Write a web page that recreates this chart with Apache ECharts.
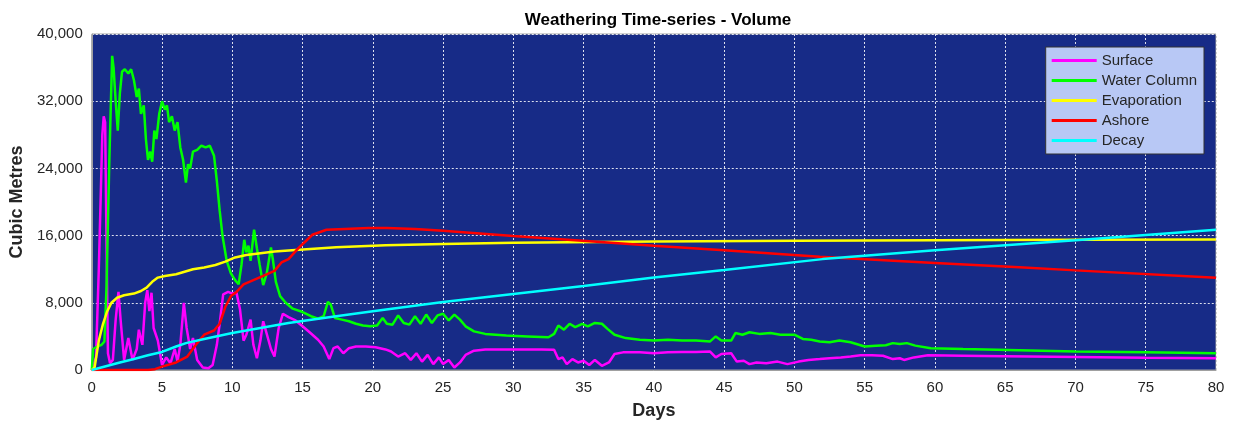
<!DOCTYPE html>
<html>
<head>
<meta charset="utf-8">
<script src="https://cdn.jsdelivr.net/npm/echarts@6/dist/echarts.min.js"></script>
<style>
html,body{margin:0;padding:0;background:#fff;}
#chart{width:1235px;height:425px;}
</style>
</head>
<body>
<div id="chart"></div>
<script>
const titleText = 'Weathering Time-series - Volume';
const xName = 'Days';
const yName = 'Cubic Metres';
const seriesNames = ['Surface', 'Water Column', 'Evaporation', 'Ashore', 'Decay'];

const surface = [[0,0],[0.3,1500],[0.5,12000],[0.75,28000],[0.85,30200],[0.95,29500],[1.05,15000],[1.15,2000],[1.3,800],[1.5,1200],[1.7,6000],[1.9,9300],[2.05,6000],[2.3,1200],[2.6,3800],[2.9,1200],[3.2,2500],[3.35,4800],[3.6,3000],[3.8,8000],[3.95,9500],[4.1,7000],[4.25,9200],[4.4,5000],[4.7,3500],[5.0,600],[5.3,1500],[5.6,800],[5.9,2500],[6.1,1000],[6.3,3000],[6.55,8000],[6.75,5000],[7.0,2500],[7.2,3800],[7.5,1200],[7.9,300],[8.3,200],[8.6,600],[8.9,3000],[9.1,5500],[9.35,9000],[9.7,9300],[10.0,9100],[10.3,9200],[10.55,7200],[10.8,3500],[11.0,4200],[11.3,6000],[11.5,3000],[11.75,1400],[12.0,3500],[12.2,5800],[12.5,4000],[12.75,2500],[13.0,1600],[13.3,5000],[13.6,6700],[14.0,6300],[14.5,5900],[15.0,5200],[15.5,4500],[16.1,3600],[16.5,2800],[16.9,1300],[17.2,2600],[17.5,2800],[17.9,2000],[18.3,2600],[18.8,2800],[19.5,2800],[20.2,2700],[20.9,2450],[21.3,2200],[21.8,1600],[22.3,2000],[22.7,1200],[23.1,2000],[23.5,1000],[23.9,1800],[24.3,700],[24.7,1500],[25.0,700],[25.4,1200],[25.8,300],[26.2,900],[26.6,1800],[27.2,2300],[28,2450],[30,2450],[32,2450],[32.9,2400],[33.2,1300],[33.5,1500],[33.8,700],[34.2,1300],[34.6,900],[35,1100],[35.4,600],[35.8,1200],[36.3,500],[36.8,900],[37.2,1900],[37.8,2100],[39,2100],[40,2000],[41,2100],[42,2150],[43,2150],[44,2200],[44.4,1500],[44.8,1900],[45.5,2000],[45.9,1000],[46.4,1100],[46.8,700],[47.3,900],[48,800],[48.8,1000],[49.5,700],[50.3,1000],[51,1200],[51.8,1300],[52.5,1400],[53.3,1500],[54,1600],[54.7,1750],[55.5,1750],[56.3,1700],[57,1300],[57.5,1400],[57.8,1200],[58.5,1500],[59.5,1750],[62,1700],[65,1650],[70,1550],[75,1450],[80,1400]];

const waterColumn = [[0,0],[0.1,2500],[0.4,2800],[0.7,3000],[0.9,3400],[1.05,10000],[1.25,25000],[1.45,37400],[1.55,36000],[1.7,32000],[1.85,28500],[2.0,33000],[2.15,35500],[2.35,35800],[2.6,35300],[2.8,35800],[3.0,34500],[3.2,32500],[3.35,33500],[3.5,30500],[3.7,31500],[3.85,27500],[4.0,25000],[4.15,26000],[4.3,24800],[4.45,28500],[4.6,27500],[4.8,30500],[5.0,32000],[5.2,31000],[5.35,31500],[5.5,29500],[5.7,30200],[5.9,28500],[6.1,29500],[6.3,26500],[6.5,25000],[6.7,22300],[6.85,24500],[7.0,24000],[7.2,26000],[7.5,26200],[7.8,26700],[8.1,26500],[8.4,26700],[8.7,25500],[8.9,22500],[9.1,19000],[9.3,16000],[9.6,13000],[9.9,11500],[10.2,10700],[10.45,10200],[10.65,12500],[10.85,15500],[11.0,14000],[11.15,14800],[11.3,13000],[11.55,16700],[11.75,14500],[11.95,12500],[12.2,10100],[12.45,11500],[12.75,14600],[12.9,13000],[13.1,10500],[13.4,8800],[13.8,8000],[14.3,7300],[15.0,6900],[15.6,6400],[16.1,6100],[16.5,6400],[16.8,8100],[17.0,7800],[17.3,6200],[17.8,6000],[18.3,5800],[18.8,5500],[19.3,5300],[19.8,5200],[20.3,5300],[20.7,6200],[21.0,5500],[21.4,5400],[21.8,6500],[22.2,5600],[22.6,5400],[23.0,6400],[23.4,5500],[23.8,6600],[24.2,5600],[24.6,6500],[25.0,6700],[25.4,5900],[25.8,6600],[26.2,6000],[26.6,5200],[27.2,4600],[28,4300],[29.5,4100],[31,4000],[32.5,3900],[32.9,4300],[33.2,5300],[33.6,4800],[34,5500],[34.4,5100],[34.9,5500],[35.3,5200],[35.8,5600],[36.3,5500],[36.7,4900],[37.2,4200],[38,3800],[39,3600],[40,3500],[41,3600],[42,3500],[43,3500],[44,3400],[44.4,4000],[44.8,3500],[45.5,3500],[45.8,4400],[46.3,4200],[46.8,4500],[47.5,4300],[48.3,4400],[49,4200],[50,4200],[50.6,3700],[51.2,3600],[51.8,3400],[52.5,3300],[53.2,3500],[54,3300],[55,2800],[55.8,2900],[56.5,2950],[57,3200],[57.5,3100],[58,3200],[58.6,2900],[59.7,2600],[62,2500],[66,2350],[70,2200],[75,2100],[80,2000]];

const evaporation = [[0,0],[0.2,300],[0.5,3500],[0.8,5500],[1.1,7000],[1.4,8000],[1.8,8600],[2.3,8900],[3.0,9100],[3.5,9400],[3.9,9800],[4.3,10500],[4.7,11000],[5.2,11200],[6.0,11400],[6.6,11700],[7.2,12000],[8.0,12200],[8.8,12500],[9.5,12900],[10.2,13400],[11.0,13700],[12.0,13900],[13.0,14100],[14.5,14300],[17.4,14600],[20.9,14850],[25,15000],[30,15150],[40,15300],[50,15380],[60,15450],[70,15500],[80,15550]];

const ashore = [[0,0],[4.0,0],[4.5,100],[5.0,400],[6.0,900],[6.8,1600],[7.5,3200],[8.0,4200],[8.7,4700],[9.1,5500],[9.5,7500],[9.9,8800],[10.3,9300],[10.8,10200],[11.5,10700],[12.2,11200],[13.0,11800],[13.5,12800],[14.0,13200],[14.7,14500],[15.2,15300],[15.7,16100],[16.2,16400],[16.7,16700],[18,16800],[19.7,16900],[21,16900],[23,16800],[25,16580],[30,15950],[36.2,15250],[40,14800],[45,14250],[51.8,13480],[60,12750],[66,12230],[70,11860],[80,10980]];

const decay = [[0,0],[1,450],[2,900],[3,1300],[4,1750],[5,2150],[6,2800],[6.7,3200],[8,3700],[10,4400],[12,5000],[14,5600],[17,6300],[20,7000],[25,8100],[30,9050],[35,10000],[40,11000],[45,11900],[52,13200],[60,14250],[70,15450],[80,16700]];

const colors = ['#FF00FF', '#00FF00', '#FFFF00', '#FF0000', '#00FFFF'];
const seriesData = [surface, waterColumn, evaporation, ashore, decay];

const chart = echarts.init(document.getElementById('chart'));
const font = 'Liberation Sans, Arial, sans-serif';
chart.setOption({
  animation: false,
  textStyle: { fontFamily: font },
  title: {
    text: titleText,
    left: 653, top: 7, textAlign: 'center',
    textStyle: { fontSize: 17, fontWeight: 'bold', color: '#000', fontFamily: font }
  },
  grid: {
    left: 91, right: 19, top: 34, bottom: 51,
    show: true, backgroundColor: '#172B87', borderColor: '#A0A0A0', borderWidth: 1
  },
  legend: {
    data: seriesNames,
    orient: 'vertical',
    right: 31, top: 47,
    backgroundColor: '#B8C8F5',
    borderColor: '#333', borderWidth: 1,
    padding: [6, 7, 6, 6],
    itemWidth: 45, itemHeight: 3, itemGap: 5,
    icon: 'rect',
    textStyle: { fontSize: 15, color: '#262626', fontFamily: font }
  },
  xAxis: {
    type: 'value', min: 0, max: 80, interval: 5,
    name: xName, nameLocation: 'middle', nameGap: 32,
    nameTextStyle: { fontSize: 18, fontWeight: 'bold', color: '#262626' },
    axisLine: { show: true, lineStyle: { color: '#A0A0A0' } },
    axisTick: { show: false },
    axisLabel: { fontSize: 15, color: '#262626', margin: 10 },
    splitLine: { show: true, lineStyle: { color: '#FFFFFF', type: [2, 2], width: 1, opacity: 0.85 } }
  },
  yAxis: {
    type: 'value', min: 0, max: 40000, interval: 8000,
    name: yName, nameLocation: 'middle', nameGap: 62,
    nameTextStyle: { fontSize: 18, fontWeight: 'bold', color: '#262626' },
    axisLine: { show: true, lineStyle: { color: '#A0A0A0' } },
    axisTick: { show: false },
    axisLabel: { fontSize: 15, color: '#262626', margin: 9,
      formatter: v => v.toLocaleString('en-US') },
    splitLine: { show: true, lineStyle: { color: '#FFFFFF', type: [2, 2], width: 1, opacity: 0.85 } }
  },
  series: seriesNames.map((n, i) => ({
    name: n, type: 'line', data: seriesData[i],
    showSymbol: false, symbol: 'none',
    lineStyle: { color: colors[i], width: 2.5 },
    itemStyle: { color: colors[i] }
  }))
});
</script>
</body>
</html>
